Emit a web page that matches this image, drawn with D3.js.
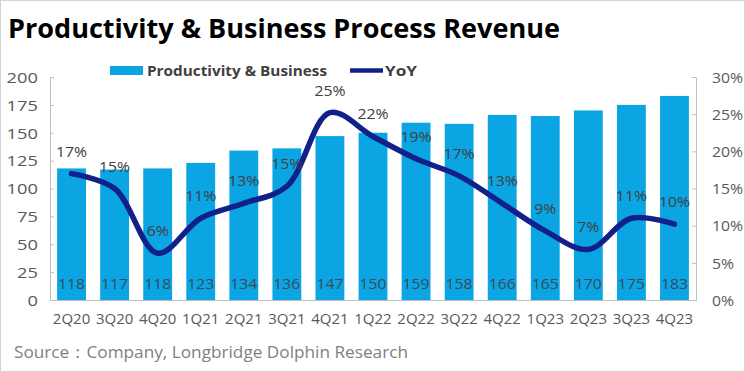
<!DOCTYPE html>
<html>
<head>
<meta charset="utf-8">
<script src="https://cdn.jsdelivr.net/npm/d3@7"></script>
<style>
  html, body { margin: 0; padding: 0; background: #fff; }
  svg { display: block; font-family: "Open Sans", "Noto Sans", sans-serif; }
</style>
</head>
<body>
<svg id="chart" width="745" height="372"></svg>
<script>
// ---- data ----
const categories = ["2Q20","3Q20","4Q20","1Q21","2Q21","3Q21","4Q21","1Q22","2Q22","3Q22","4Q22","1Q23","2Q23","3Q23","4Q23"];
const revenue = [118,117,118,123,134,136,147,150,159,158,166,165,170,175,183];
const yoy = [0.17,0.15,0.063,0.11,0.13,0.153,0.252,0.22,0.19,0.167,0.13,0.093,0.068,0.11,0.102];
const yoyLabels = ["17%","15%","6%","11%","13%","15%","25%","22%","19%","17%","13%","9%","7%","11%","10%"];
const leftTicks = [0,25,50,75,100,125,150,175,200];
const rightTicks = [0,0.05,0.10,0.15,0.20,0.25,0.30];
const title = "Productivity & Business Process Revenue";
const seriesNames = ["Productivity & Business","YoY"];
const source = "Source：Company, Longbridge Dolphin Research";

// ---- style ----
const barColor = "#0ba5e3";
const lineColor = "#12218a";
const axisColor = "#bfbfbf";
const labelColor = "#595959";

const svg = d3.select("#chart");
const W = 745, H = 372;
const m = {left: 50, right: 49, top: 77, bottom: 72};

function stretch(sel, k) {
  sel.each(function() {
    const w = this.getComputedTextLength();
    this.setAttribute("textLength", w * k);
    this.setAttribute("lengthAdjust", "spacingAndGlyphs");
  });
}

svg.append("rect").attr("x",0.5).attr("y",0.5).attr("width",W-1).attr("height",H-1)
  .attr("fill","#fff").attr("stroke","#d4d4d4");

const x = d3.scaleBand().domain(categories).range([m.left, W - m.right]).paddingInner(0.33).paddingOuter(0.165);
const yL = d3.scaleLinear().domain([0,200]).range([H - m.bottom, m.top]);
const yR = d3.scaleLinear().domain([0,0.30]).range([H - m.bottom, m.top]);

// title
const t = svg.append("text").attr("x",8).attr("y",38).text(title)
  .attr("font-size",27).attr("font-weight",700).attr("fill","#000");
t.attr("textLength", 552).attr("lengthAdjust","spacingAndGlyphs");

// left axis
const gL = svg.append("g").attr("transform",`translate(${m.left},0)`)
  .call(d3.axisLeft(yL).tickValues(leftTicks).tickSizeInner(-4).tickSizeOuter(0).tickPadding(12));
gL.select(".domain").attr("stroke",axisColor);
gL.selectAll(".tick line").attr("stroke",axisColor);
gL.selectAll(".tick text").attr("font-size",15).attr("fill",labelColor).attr("font-family","Open Sans").attr("dy","0.35em");
stretch(gL.selectAll(".tick text"), 1.22);

// right axis
const gR = svg.append("g").attr("transform",`translate(${W - m.right},0)`)
  .call(d3.axisRight(yR).tickValues(rightTicks).tickFormat(d3.format(".0%")).tickSizeInner(-4).tickSizeOuter(0).tickPadding(16));
gR.select(".domain").attr("stroke",axisColor);
gR.selectAll(".tick line").attr("stroke",axisColor);
gR.selectAll(".tick text").attr("font-size",15).attr("fill",labelColor).attr("font-family","Open Sans").attr("dy","0.35em");
stretch(gR.selectAll(".tick text"), 1.05);

// bars
svg.append("g").selectAll("rect").data(revenue).join("rect")
  .attr("x",(d,i)=>x(categories[i])).attr("width",x.bandwidth())
  .attr("y",d=>yL(d)).attr("height",d=>yL(0)-yL(d)).attr("fill",barColor);

// bottom axis
const gB = svg.append("g").attr("transform",`translate(0,${H - m.bottom})`)
  .call(d3.axisBottom(x).tickSize(0).tickPadding(13));
gB.select(".domain").attr("stroke",axisColor);
gB.selectAll(".tick text").attr("font-size",15).attr("fill",labelColor).attr("font-family","Open Sans");
stretch(gB.selectAll(".tick text"), 1.0);

// bar value labels
const bl = svg.append("g").selectAll("text").data(revenue).join("text")
  .attr("x",(d,i)=>x(categories[i]) + x.bandwidth()/2).attr("y", yL(0) - 11)
  .attr("text-anchor","middle").attr("font-size",15).attr("fill","#3a4a58").text(d=>d);
stretch(bl, 1.05);

// line
const line = d3.line().x((d,i)=>x(categories[i]) + x.bandwidth()/2).y(d=>yR(d)).curve(d3.curveCatmullRom.alpha(0.5));
svg.append("path").datum(yoy).attr("d",line).attr("fill","none")
  .attr("stroke",lineColor).attr("stroke-width",5.5).attr("stroke-linecap","round").attr("stroke-linejoin","round");

// line labels
const ll = svg.append("g").selectAll("text").data(yoy).join("text")
  .attr("x",(d,i)=>x(categories[i]) + x.bandwidth()/2).attr("y", d=>yR(d) - 17)
  .attr("text-anchor","middle").attr("font-size",15).attr("fill","#404040").text((d,i)=>yoyLabels[i]);
stretch(ll, 1.05);

// legend
const lg = svg.append("g");
lg.append("rect").attr("x",110).attr("y",66).attr("width",33).attr("height",9).attr("fill",barColor);
lg.append("text").attr("x",147).attr("y",75.5).attr("font-size",14).attr("font-weight",700).attr("fill","#404040").text(seriesNames[0])
  .attr("textLength",180).attr("lengthAdjust","spacingAndGlyphs");
lg.append("line").attr("x1",350).attr("x2",383).attr("y1",70.5).attr("y2",70.5).attr("stroke",lineColor).attr("stroke-width",4.5);
lg.append("text").attr("x",385).attr("y",75.5).attr("font-size",14).attr("font-weight",700).attr("fill","#404040").text(seriesNames[1])
  .attr("textLength",32).attr("lengthAdjust","spacingAndGlyphs");

// source
const s = svg.append("text").attr("x",14).attr("y",358).attr("font-size",17).attr("fill","#7f7f7f").text(source);
s.attr("textLength",394).attr("lengthAdjust","spacingAndGlyphs");
</script>
</body>
</html>
